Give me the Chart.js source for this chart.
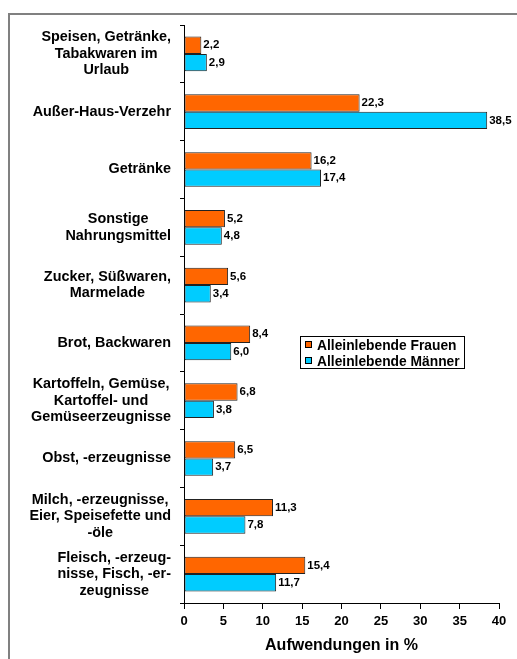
<!DOCTYPE html>
<html>
<head>
<meta charset="utf-8">
<script src="https://cdn.jsdelivr.net/npm/chart.js@4"></script>
<style>
  body { margin: 0; background: #fff; }
  #wrap { position: relative; width: 517px; height: 659px; }
  #frame { position: absolute; left: 8px; top: 13px; right: 0; bottom: 0;
           border-top: 2px solid #808080; border-left: 2px solid #808080; }
  #c { position: absolute; left: 0; top: 0; }
</style>
</head>
<body>
<div id="wrap">
  <div id="frame"></div>
  <canvas id="c" width="517" height="659"></canvas>
</div>
<script>
const categories = [
  ["Speisen, Getränke,", "Tabakwaren im", "Urlaub"],
  ["Außer-Haus-Verzehr"],
  ["Getränke"],
  ["Sonstige", "Nahrungsmittel"],
  ["Zucker, Süßwaren,", "Marmelade"],
  ["Brot, Backwaren"],
  ["Kartoffeln, Gemüse,", "Kartoffel- und", "Gemüseerzeugnisse"],
  ["Obst, -erzeugnisse"],
  ["Milch, -erzeugnisse,", "Eier, Speisefette und", "-öle"],
  ["Fleisch, -erzeug-", "nisse, Fisch, -er-", "zeugnisse"]
];
const frauen = [2.2, 22.3, 16.2, 5.2, 5.6, 8.4, 6.8, 6.5, 11.3, 15.4];
const maenner = [2.9, 38.5, 17.4, 4.8, 3.4, 6.0, 3.8, 3.7, 7.8, 11.7];
const seriesNames = ["Alleinlebende Frauen", "Alleinlebende Männer"];
const xTitle = "Aufwendungen in %";

const FONT = "'Liberation Sans', Arial, sans-serif";

// category labels: block right-aligned, lines centred inside the block
const catLabels = {
  id: "catLabels",
  afterDraw(chart) {
    const ctx = chart.ctx;
    const y = chart.scales.y;
    const right = 171, lh = 16.5;
    ctx.save();
    ctx.font = "bold 14.4px " + FONT;
    ctx.fillStyle = "#000";
    ctx.textAlign = "center";
    ctx.textBaseline = "middle";
    categories.forEach((lines, i) => {
      const cy = y.getPixelForTick(i);
      const w = Math.max(...lines.map(l => ctx.measureText(l).width));
      const cx = right - w / 2;
      const y0 = cy - (lines.length - 1) * lh / 2;
      lines.forEach((l, k) => ctx.fillText(l, cx, y0 + k * lh));
    });
    ctx.restore();
  }
};

const valueLabels = {
  id: "valueLabels",
  afterDatasetsDraw(chart) {
    const ctx = chart.ctx;
    ctx.save();
    ctx.font = "bold 11.5px " + FONT;
    ctx.fillStyle = "#000";
    ctx.textAlign = "left";
    ctx.textBaseline = "middle";
    chart.data.datasets.forEach((ds, di) => {
      chart.getDatasetMeta(di).data.forEach((bar, i) => {
        ctx.fillText(ds.data[i].toFixed(1).replace(".", ","), bar.x + 2, bar.y);
      });
    });
    ctx.restore();
  }
};

const boxLegend = {
  id: "boxLegend",
  afterDraw(chart) {
    const ctx = chart.ctx;
    const x = 300, y = 336, w = 164, h = 32;
    ctx.save();
    ctx.fillStyle = "#fff";
    ctx.fillRect(x, y, w, h);
    ctx.strokeStyle = "#000";
    ctx.lineWidth = 1;
    ctx.strokeRect(x + 0.5, y + 0.5, w, h);
    ctx.font = "bold 13.8px " + FONT;
    ctx.textBaseline = "middle";
    chart.data.datasets.forEach((ds, i) => {
      const cy = y + 9 + i * 16;
      ctx.fillStyle = ds.backgroundColor;
      ctx.fillRect(x + 5, cy - 3, 6, 6);
      ctx.strokeRect(x + 5.5, cy - 3.5, 6, 6);
      ctx.fillStyle = "#000";
      ctx.fillText(ds.label, x + 17, cy + 1);
    });
    ctx.restore();
  }
};

new Chart(document.getElementById("c"), {
  type: "bar",
  data: {
    labels: categories.map(l => l.join(" ")),
    datasets: [
      { label: seriesNames[0], data: frauen, backgroundColor: "#FF6600",
        borderColor: "#222", borderWidth: 1, borderSkipped: false },
      { label: seriesNames[1], data: maenner, backgroundColor: "#00CCFF",
        borderColor: "#222", borderWidth: 1, borderSkipped: false }
    ]
  },
  options: {
    indexAxis: "y",
    responsive: false,
    animation: false,
    categoryPercentage: 0.6,
    barPercentage: 1.0,
    layout: { padding: { top: 25, right: 18, left: 0, bottom: 0 } },
    plugins: { legend: { display: false }, tooltip: { enabled: false } },
    scales: {
      x: {
        min: 0, max: 40,
        ticks: { stepSize: 5, color: "#000", padding: 5,
                 font: { family: FONT, size: 13, weight: "bold" } },
        grid: { drawOnChartArea: false, drawTicks: true, tickLength: 6, color: "#000" },
        border: { color: "#000", width: 1 },
        title: { display: true, text: xTitle, color: "#000", padding: { top: 3 },
                 font: { family: FONT, size: 16, weight: "bold" } },
        afterFit(s) { s.height = 56; }
      },
      y: {
        ticks: { display: false },
        grid: { drawOnChartArea: false, drawTicks: true, tickLength: 4, color: "#000", offset: true },
        border: { color: "#000", width: 1 },
        afterFit(s) { s.width = 184; }
      }
    }
  },
  plugins: [catLabels, valueLabels, boxLegend]
});
</script>
</body>
</html>
